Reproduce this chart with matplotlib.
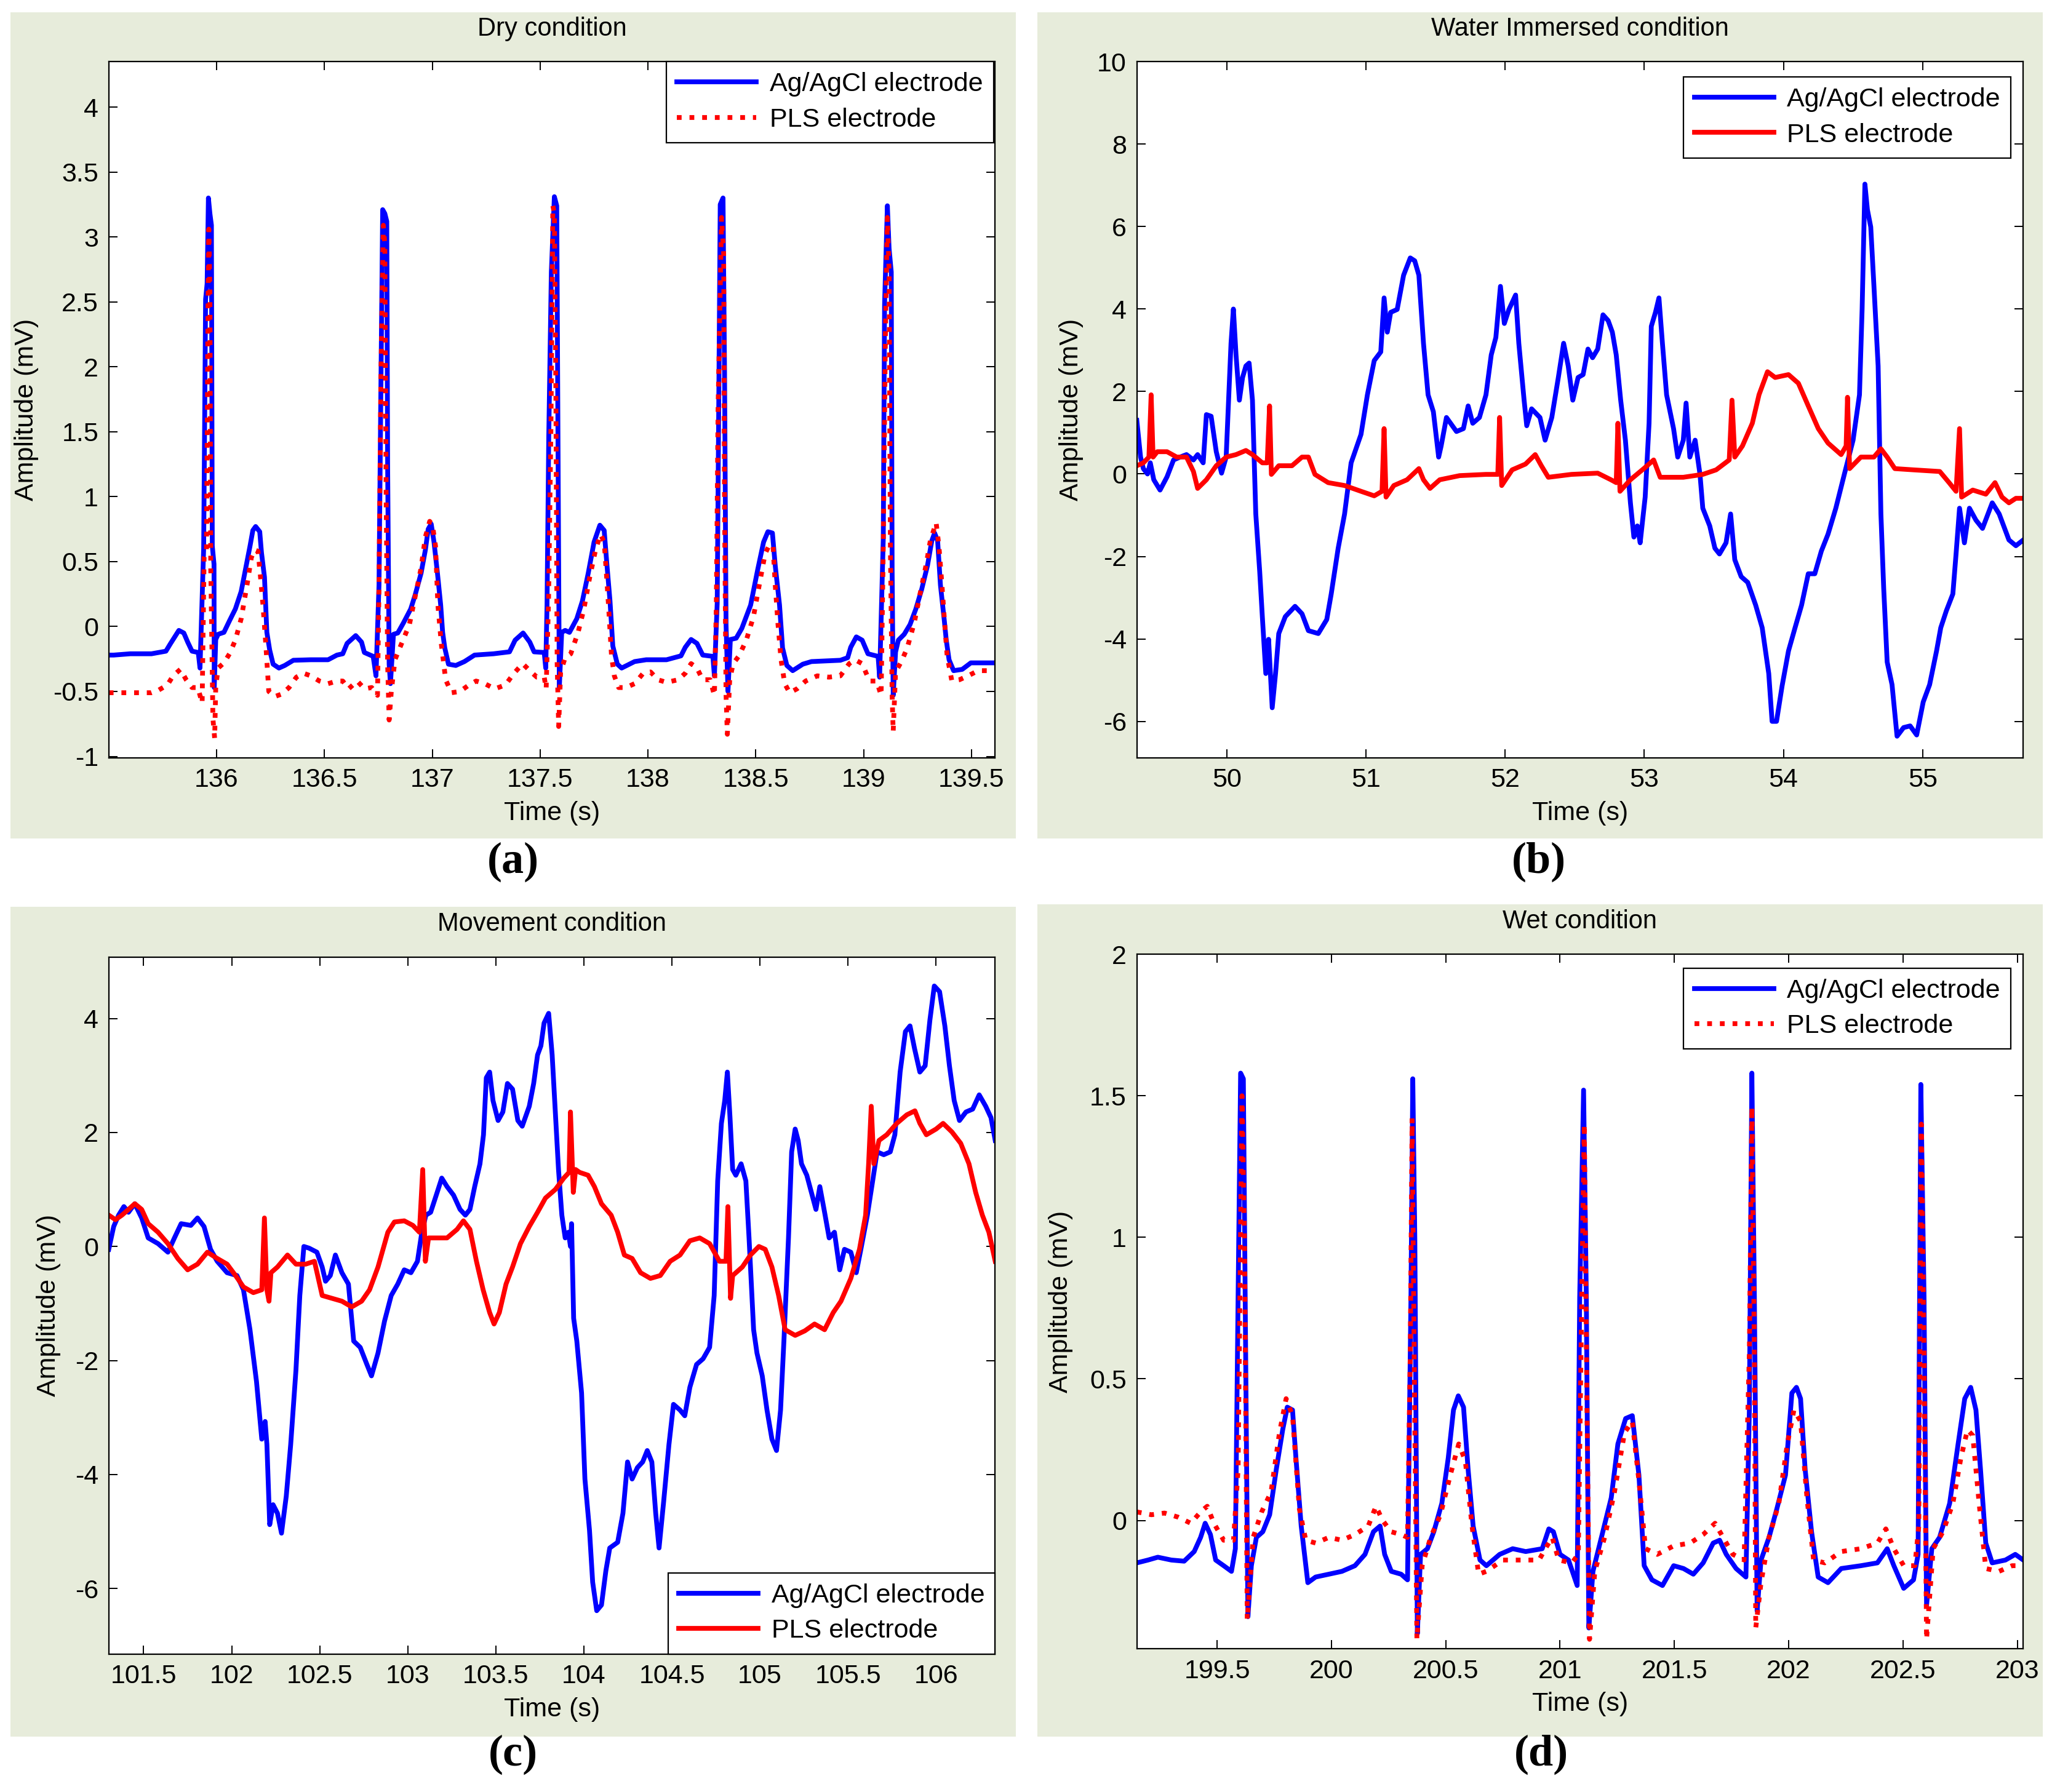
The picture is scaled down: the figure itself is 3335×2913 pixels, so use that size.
import matplotlib.pyplot as plt
from matplotlib.patches import Rectangle
from matplotlib.ticker import FuncFormatter

plt.rcParams['font.family'] = ['Liberation Sans', 'DejaVu Sans']
plt.rcParams['axes.unicode_minus'] = False

# ---- (a) dry condition ----
dry_ag_t = [135.50, 135.523, 135.60, 135.698, 135.765, 135.785, 135.825, 135.848, 135.866, 135.886,
            135.915, 135.923, 135.94, 135.949, 135.956, 135.962, 135.969, 135.976, 135.98, 135.988,
            135.989, 135.996, 136.007, 136.034, 136.06, 136.087, 136.114, 136.134, 136.155, 136.168,
            136.181, 136.20, 136.208, 136.222, 136.233, 136.246, 136.262, 136.289, 136.316, 136.356,
            136.437, 136.517, 136.558, 136.585, 136.605, 136.645, 136.672, 136.685, 136.726, 136.739,
            136.753, 136.762, 136.77, 136.78, 136.789, 136.793, 136.80, 136.806, 136.82, 136.84,
            136.867, 136.90, 136.92, 136.948, 136.968, 136.981, 136.995, 137.008, 137.024, 137.039,
            137.048, 137.058, 137.075, 137.109, 137.149, 137.196, 137.284, 137.358, 137.384, 137.421,
            137.452, 137.472, 137.519, 137.526, 137.532, 137.54, 137.552, 137.566, 137.577, 137.582,
            137.589, 137.60, 137.616, 137.636, 137.67, 137.696, 137.723, 137.75, 137.777, 137.797,
            137.81, 137.824, 137.837, 137.858, 137.878, 137.938, 137.992, 138.086, 138.153, 138.173,
            138.20, 138.227, 138.254, 138.301, 138.308, 138.321, 138.328, 138.335, 138.348, 138.355,
            138.362, 138.371, 138.382, 138.409, 138.435, 138.476, 138.509, 138.536, 138.556, 138.577,
            138.59, 138.61, 138.624, 138.644, 138.671, 138.718, 138.758, 138.892, 138.926, 138.94,
            138.966, 138.993, 139.02, 139.067, 139.074, 139.091, 139.097, 139.11, 139.118, 139.128,
            139.132, 139.137, 139.148, 139.161, 139.188, 139.215, 139.242, 139.269, 139.296, 139.316,
            139.329, 139.343, 139.356, 139.374, 139.383, 139.396, 139.417, 139.457, 139.497, 139.565,
            139.62]
dry_ag_v = [-0.22, -0.22, -0.21, -0.21, -0.19, -0.135, -0.03, -0.05, -0.12, -0.19,
            -0.20, -0.32, 0.60, 2.52, 2.64, 3.30, 3.18, 3.09, 0.62, 0.48,
            -0.47, -0.10, -0.06, -0.045, 0.045, 0.135, 0.27, 0.44, 0.62, 0.74,
            0.77, 0.73, 0.57, 0.38, -0.045, -0.18, -0.29, -0.32, -0.30, -0.26,
            -0.256, -0.256, -0.22, -0.21, -0.13, -0.07, -0.12, -0.20, -0.23, -0.38,
            0.32, 1.88, 3.21, 3.18, 3.12, 1.25, -0.29, -0.44, -0.06, -0.05,
            0.03, 0.135, 0.24, 0.41, 0.59, 0.75, 0.79, 0.65, 0.41, 0.165,
            -0.045, -0.165, -0.29, -0.30, -0.27, -0.22, -0.21, -0.195, -0.105, -0.05,
            -0.12, -0.195, -0.20, -0.32, 0.165, 1.46, 2.73, 3.31, 3.24, 1.67,
            -0.47, -0.045, -0.03, -0.045, 0.06, 0.196, 0.41, 0.65, 0.78, 0.74,
            0.47, 0.196, -0.15, -0.29, -0.32, -0.27, -0.256, -0.256, -0.226, -0.16,
            -0.10, -0.13, -0.22, -0.23, -0.38, 0.18, 1.67, 3.25, 3.30, 1.97,
            0.015, -0.50, -0.10, -0.09, -0.015, 0.165, 0.44, 0.65, 0.73, 0.72,
            0.47, 0.165, -0.165, -0.30, -0.34, -0.29, -0.27, -0.26, -0.24, -0.16,
            -0.08, -0.105, -0.21, -0.23, -0.39, 0.68, 2.48, 3.24, 2.91, 2.73,
            0.44, -0.53, -0.196, -0.105, -0.06, 0.015, 0.135, 0.286, 0.47, 0.66,
            0.72, 0.66, 0.32, 0.045, -0.105, -0.256, -0.34, -0.33, -0.28, -0.28,
            -0.28]
dry_pls_t = [135.50, 135.523, 135.698, 135.731, 135.772, 135.798, 135.832, 135.859, 135.886, 135.913,
             135.933, 135.942, 135.953, 135.96, 135.964, 135.969, 135.973, 135.983, 135.991, 135.996,
             136.007, 136.034, 136.06, 136.087, 136.114, 136.141, 136.161, 136.175, 136.192, 136.202,
             136.215, 136.228, 136.242, 136.269, 136.302, 136.336, 136.37, 136.403, 136.437, 136.477,
             136.517, 136.558, 136.585, 136.612, 136.652, 136.686, 136.719, 136.746, 136.753, 136.762,
             136.773, 136.78, 136.786, 136.793, 136.80, 136.81, 136.827, 136.853, 136.894, 136.92,
             136.948, 136.968, 136.988, 137.001, 137.015, 137.026, 137.042, 137.062, 137.089, 137.129,
             137.17, 137.203, 137.243, 137.29, 137.339, 137.379, 137.419, 137.458, 137.485, 137.519,
             137.528, 137.539, 137.55, 137.559, 137.566, 137.573, 137.579, 137.586, 137.595, 137.616,
             137.642, 137.676, 137.703, 137.73, 137.757, 137.78, 137.797, 137.806, 137.817, 137.831,
             137.844, 137.864, 137.898, 137.938, 137.978, 138.012, 138.046, 138.086, 138.14, 138.173,
             138.20, 138.227, 138.254, 138.288, 138.308, 138.317, 138.325, 138.341, 138.351, 138.355,
             138.362, 138.368, 138.379, 138.395, 138.422, 138.456, 138.489, 138.516, 138.543, 138.563,
             138.58, 138.59, 138.603, 138.617, 138.634, 138.657, 138.691, 138.731, 138.785, 138.839,
             138.892, 138.933, 138.96, 138.993, 139.027, 139.06, 139.081, 139.091, 139.101, 139.11,
             139.118, 139.124, 139.132, 139.137, 139.148, 139.175, 139.202, 139.235, 139.262, 139.289,
             139.309, 139.336, 139.349, 139.363, 139.376, 139.387, 139.409, 139.444, 139.484, 139.531,
             139.591, 139.62]
dry_pls_v = [-0.51, -0.51, -0.51, -0.49, -0.45, -0.38, -0.33, -0.41, -0.47, -0.47,
             -0.59, 0.53, 0.59, 2.42, 3.06, 2.58, 0.44, -0.71, -0.86, -0.47,
             -0.32, -0.28, -0.21, -0.105, 0.06, 0.32, 0.53, 0.59, 0.58, 0.41,
             0.165, -0.135, -0.50, -0.54, -0.52, -0.47, -0.39, -0.36, -0.38, -0.42,
             -0.44, -0.42, -0.42, -0.48, -0.42, -0.48, -0.47, -0.53, 0.32, 1.94,
             3.09, 2.94, 1.04, -0.29, -0.72, -0.50, -0.256, -0.15, 0.015, 0.226,
             0.45, 0.69, 0.81, 0.78, 0.62, 0.165, -0.135, -0.41, -0.51, -0.50,
             -0.45, -0.42, -0.44, -0.48, -0.45, -0.36, -0.286, -0.35, -0.39, -0.39,
             -0.48, 0.196, 1.52, 3.24, 3.18, 1.82, -0.29, -0.77, -0.35, -0.24,
             -0.21, -0.045, 0.135, 0.38, 0.59, 0.71, 0.65, 0.44, 0.165, -0.226,
             -0.38, -0.47, -0.47, -0.44, -0.36, -0.35, -0.41, -0.43, -0.41, -0.36,
             -0.286, -0.32, -0.41, -0.41, -0.53, 0.165, 1.67, 3.15, 2.87, 0.92,
             -0.53, -0.83, -0.41, -0.286, -0.226, -0.105, 0.075, 0.32, 0.56, 0.63,
             0.62, 0.32, 0.015, -0.256, -0.44, -0.51, -0.48, -0.42, -0.38, -0.39,
             -0.38, -0.286, -0.256, -0.286, -0.42, -0.42, -0.53, 0.62, 2.27, 3.15,
             2.73, 0.62, -0.53, -0.81, -0.35, -0.27, -0.165, 0.03, 0.256, 0.47,
             0.66, 0.80, 0.62, 0.32, 0.015, -0.226, -0.42, -0.41, -0.38, -0.34,
             -0.34, -0.34]

# ---- (b) water immersed condition ----
water_ag_t = [49.353, 49.38, 49.40, 49.43, 49.45, 49.475, 49.52, 49.57, 49.617, 49.664,
              49.71, 49.76, 49.79, 49.83, 49.853, 49.887, 49.924, 49.962, 49.995, 50.03,
              50.047, 50.066, 50.09, 50.113, 50.137, 50.16, 50.184, 50.208, 50.236, 50.255,
              50.28, 50.30, 50.326, 50.35, 50.373, 50.42, 50.49, 50.54, 50.586, 50.657,
              50.718, 50.75, 50.80, 50.846, 50.893, 50.964, 51.01, 51.059, 51.106, 51.13,
              51.153, 51.177, 51.224, 51.27, 51.318, 51.35, 51.38, 51.413, 51.446, 51.484,
              51.522, 51.54, 51.578, 51.65, 51.70, 51.734, 51.767, 51.815, 51.862, 51.90,
              51.933, 51.966, 51.994, 52.027, 52.075, 52.098, 52.136, 52.155, 52.19, 52.25,
              52.287, 52.335, 52.382, 52.42, 52.453, 52.486, 52.524, 52.56, 52.595, 52.628,
              52.665, 52.703, 52.74, 52.77, 52.798, 52.83, 52.864, 52.90, 52.925, 52.95,
              52.97, 53.006, 53.034, 53.05, 53.08, 53.105, 53.13, 53.16, 53.21, 53.24,
              53.28, 53.30, 53.327, 53.365, 53.40, 53.42, 53.47, 53.507, 53.54, 53.587,
              53.62, 53.65, 53.696, 53.743, 53.80, 53.847, 53.894, 53.918, 53.95, 53.99,
              54.036, 54.083, 54.13, 54.178, 54.225, 54.272, 54.32, 54.376, 54.437, 54.50,
              54.546, 54.565, 54.585, 54.603, 54.627, 54.65, 54.68, 54.70, 54.72, 54.745,
              54.78, 54.816, 54.863, 54.91, 54.957, 55.004, 55.05, 55.10, 55.13, 55.17,
              55.217, 55.24, 55.265, 55.30, 55.336, 55.383, 55.43, 55.50, 55.55, 55.62,
              55.67, 55.723]
water_ag_v = [1.30, 0.41, 0.13, 0.0, 0.27, -0.14, -0.39, -0.07, 0.34, 0.41,
              0.47, 0.34, 0.47, 0.27, 1.44, 1.40, 0.54, 0.02, 0.41, 3.17,
              4.0, 2.89, 1.79, 2.34, 2.62, 2.69, 1.79, -0.97, -2.36, -3.46,
              -4.84, -4.01, -5.67, -4.84, -3.87, -3.46, -3.21, -3.39, -3.80, -3.87,
              -3.53, -2.91, -1.80, -0.97, 0.27, 0.96, 1.92, 2.75, 2.96, 4.27,
              3.44, 3.92, 3.99, 4.82, 5.24, 5.17, 4.82, 3.17, 1.92, 1.51,
              0.41, 0.68, 1.37, 1.03, 1.10, 1.65, 1.23, 1.37, 1.92, 2.89,
              3.31, 4.55, 3.65, 3.99, 4.34, 3.17, 1.79, 1.17, 1.58, 1.37,
              0.82, 1.37, 2.34, 3.17, 2.62, 1.79, 2.34, 2.41, 3.03, 2.82,
              3.03, 3.86, 3.72, 3.44, 2.89, 1.79, 0.82, -0.70, -1.53, -1.26,
              -1.67, -0.56, 1.23, 3.58, 3.92, 4.27, 3.17, 1.92, 1.10, 0.41,
              0.82, 1.72, 0.41, 0.82, -0.01, -0.83, -1.26, -1.80, -1.94, -1.67,
              -0.97, -2.08, -2.49, -2.63, -3.18, -3.73, -4.84, -6.0, -6.0, -5.14,
              -4.29, -3.73, -3.18, -2.42, -2.42, -1.87, -1.46, -0.83, -0.01, 0.82,
              1.92, 4.0, 7.03, 6.41, 5.99, 4.55, 2.62, -0.97, -2.77, -4.56,
              -5.11, -6.36, -6.15, -6.11, -6.33, -5.53, -5.11, -4.29, -3.73, -3.32,
              -2.91, -1.94, -0.83, -1.67, -0.83, -1.12, -1.32, -0.70, -0.97, -1.60,
              -1.74, -1.60]
water_pls_t = [49.353, 49.40, 49.44, 49.456, 49.47, 49.50, 49.57, 49.64, 49.71, 49.76,
               49.79, 49.853, 49.924, 49.995, 50.066, 50.137, 50.184, 50.255, 50.29, 50.307,
               50.32, 50.373, 50.468, 50.54, 50.586, 50.633, 50.728, 50.846, 50.964, 51.059,
               51.115, 51.13, 51.144, 51.20, 51.295, 51.38, 51.413, 51.46, 51.53, 51.673,
               51.862, 51.947, 51.96, 51.975, 52.05, 52.146, 52.216, 52.26, 52.31, 52.476,
               52.665, 52.76, 52.798, 52.81, 52.825, 52.90, 52.996, 53.067, 53.114, 53.28,
               53.42, 53.516, 53.61, 53.63, 53.65, 53.705, 53.776, 53.824, 53.885, 53.94,
               54.036, 54.107, 54.178, 54.25, 54.32, 54.414, 54.45, 54.46, 54.475, 54.556,
               54.65, 54.70, 54.745, 54.80, 54.934, 55.123, 55.19, 55.24, 55.265, 55.28,
               55.36, 55.454, 55.52, 55.57, 55.62, 55.67, 55.723]
water_pls_v = [0.20, 0.27, 0.41, 1.92, 0.41, 0.54, 0.54, 0.41, 0.41, 0.06,
               -0.35, -0.14, 0.20, 0.41, 0.47, 0.57, 0.47, 0.27, 0.27, 1.65,
               -0.01, 0.20, 0.20, 0.41, 0.41, -0.01, -0.21, -0.28, -0.42, -0.53,
               -0.42, 1.10, -0.56, -0.28, -0.14, 0.13, -0.14, -0.35, -0.14, -0.04,
               -0.01, -0.01, 1.37, -0.28, 0.10, 0.24, 0.47, 0.20, -0.08, -0.01,
               0.02, -0.14, -0.21, 1.23, -0.42, -0.14, 0.13, 0.34, -0.08, -0.08,
               -0.01, 0.10, 0.34, 1.79, 0.41, 0.68, 1.23, 1.92, 2.48, 2.34,
               2.41, 2.20, 1.65, 1.10, 0.75, 0.47, 0.68, 1.86, 0.13, 0.41,
               0.41, 0.61, 0.41, 0.13, 0.10, 0.06, -0.21, -0.42, 1.10, -0.56,
               -0.39, -0.49, -0.21, -0.56, -0.70, -0.59, -0.59]

# ---- (c) movement condition ----
move_ag_t = [101.302, 101.33, 101.358, 101.388, 101.414, 101.45, 101.489, 101.526, 101.582, 101.638,
             101.675, 101.713, 101.768, 101.806, 101.843, 101.88, 101.918, 101.974, 102.03, 102.067,
             102.104, 102.141, 102.171, 102.19, 102.20, 102.216, 102.235, 102.26, 102.283, 102.31,
             102.335, 102.365, 102.387, 102.41, 102.44, 102.484, 102.514, 102.533, 102.56, 102.589,
             102.626, 102.663, 102.693, 102.73, 102.768, 102.794, 102.831, 102.868, 102.906, 102.943,
             102.98, 103.018, 103.055, 103.08, 103.103, 103.13, 103.167, 103.193, 103.223, 103.26,
             103.297, 103.327, 103.353, 103.38, 103.41, 103.43, 103.446, 103.465, 103.484, 103.513,
             103.54, 103.566, 103.595, 103.625, 103.65, 103.69, 103.715, 103.737, 103.756, 103.774,
             103.80, 103.82, 103.838, 103.856, 103.875, 103.894, 103.912, 103.924, 103.93, 103.942,
             103.96, 103.987, 104.006, 104.032, 104.05, 104.073, 104.10, 104.125, 104.147, 104.192,
             104.222, 104.248, 104.274, 104.304, 104.334, 104.36, 104.386, 104.408, 104.427, 104.453,
             104.483, 104.509, 104.546, 104.573, 104.602, 104.64, 104.677, 104.714, 104.74, 104.76,
             104.781, 104.80, 104.815, 104.83, 104.845, 104.863, 104.893, 104.92, 104.938, 104.964,
             104.983, 105.013, 105.04, 105.068, 105.094, 105.117, 105.136, 105.162, 105.18, 105.20,
             105.217, 105.236, 105.266, 105.292, 105.318, 105.34, 105.367, 105.393, 105.423, 105.453,
             105.48, 105.516, 105.547, 105.573, 105.61, 105.64, 105.665, 105.703, 105.74, 105.766,
             105.796, 105.826, 105.852, 105.878, 105.908, 105.938, 105.965, 105.99, 106.02, 106.05,
             106.076, 106.103, 106.133, 106.17, 106.208, 106.245, 106.282, 106.312, 106.336]
move_ag_v = [-0.05, 0.35, 0.55, 0.70, 0.60, 0.75, 0.50, 0.15, 0.05, -0.10,
             0.15, 0.40, 0.37, 0.50, 0.35, -0.05, -0.26, -0.46, -0.51, -0.76,
             -1.46, -2.37, -3.38, -3.07, -3.47, -4.88, -4.53, -4.68, -5.03, -4.38,
             -3.48, -2.17, -0.86, 0.0, -0.03, -0.10, -0.36, -0.61, -0.51, -0.15,
             -0.46, -0.66, -1.66, -1.77, -2.07, -2.27, -1.87, -1.31, -0.86, -0.66,
             -0.41, -0.46, -0.26, 0.25, 0.55, 0.60, 0.95, 1.20, 1.05, 0.90,
             0.65, 0.55, 0.65, 1.05, 1.45, 1.96, 2.96, 3.06, 2.56, 2.21,
             2.36, 2.86, 2.76, 2.21, 2.11, 2.46, 2.86, 3.36, 3.52, 3.92,
             4.09, 3.36, 2.36, 1.35, 0.55, 0.15, 0.25, 0.0, 0.40, -1.26,
             -1.66, -2.57, -4.08, -4.98, -5.89, -6.39, -6.29, -5.69, -5.29, -5.19,
             -4.68, -3.78, -4.08, -3.88, -3.78, -3.58, -3.78, -4.68, -5.29, -4.48,
             -3.48, -2.77, -2.87, -2.97, -2.47, -2.07, -1.97, -1.77, -0.86, 1.15,
             2.16, 2.56, 3.06, 2.26, 1.35, 1.25, 1.45, 1.15, 0.15, -1.46,
             -1.87, -2.27, -2.87, -3.38, -3.58, -2.87, -1.66, 0.15, 1.66, 2.06,
             1.86, 1.45, 1.25, 0.95, 0.65, 1.05, 0.60, 0.15, 0.25, -0.41,
             -0.05, -0.10, -0.46, -0.05, 0.55, 1.15, 1.66, 1.61, 1.66, 1.96,
             3.06, 3.77, 3.87, 3.47, 3.06, 3.17, 3.97, 4.57, 4.47, 3.87,
             3.17, 2.56, 2.21, 2.36, 2.41, 2.66, 2.46, 2.26, 1.86]
move_pls_t = [101.302, 101.34, 101.377, 101.414, 101.45, 101.489, 101.526, 101.582, 101.638, 101.694,
              101.75, 101.806, 101.862, 101.918, 101.974, 102.022, 102.067, 102.123, 102.171, 102.186,
              102.20, 102.212, 102.223, 102.26, 102.317, 102.365, 102.42, 102.47, 102.514, 102.57,
              102.626, 102.682, 102.738, 102.783, 102.831, 102.887, 102.924, 102.98, 103.029, 103.066,
              103.085, 103.10, 103.118, 103.167, 103.223, 103.28, 103.316, 103.353, 103.39, 103.428,
              103.465, 103.49, 103.52, 103.558, 103.595, 103.64, 103.69, 103.737, 103.782, 103.838,
              103.886, 103.916, 103.924, 103.94, 103.953, 103.976, 104.024, 104.06, 104.10, 104.155,
              104.192, 104.23, 104.274, 104.322, 104.378, 104.434, 104.49, 104.546, 104.602, 104.658,
              104.714, 104.77, 104.807, 104.818, 104.833, 104.845, 104.90, 104.946, 104.994, 105.03,
              105.068, 105.106, 105.143, 105.20, 105.255, 105.31, 105.367, 105.416, 105.46, 105.516,
              105.565, 105.60, 105.617, 105.632, 105.647, 105.676, 105.72, 105.777, 105.834, 105.88,
              105.908, 105.945, 106.0, 106.04, 106.09, 106.14, 106.187, 106.225, 106.263, 106.30,
              106.336]
move_pls_v = [0.55, 0.47, 0.55, 0.65, 0.75, 0.65, 0.40, 0.25, 0.05, -0.21,
              -0.41, -0.31, -0.10, -0.21, -0.31, -0.51, -0.71, -0.81, -0.76, 0.50,
              -0.76, -0.96, -0.46, -0.36, -0.15, -0.31, -0.31, -0.26, -0.86, -0.91,
              -0.96, -1.06, -0.96, -0.76, -0.36, 0.25, 0.43, 0.45, 0.37, 0.25,
              1.35, -0.26, 0.15, 0.15, 0.15, 0.30, 0.45, 0.30, -0.26, -0.76,
              -1.16, -1.36, -1.16, -0.66, -0.36, 0.05, 0.35, 0.60, 0.85, 1.00,
              1.20, 1.30, 2.36, 0.95, 1.35, 1.30, 1.25, 1.05, 0.75, 0.55,
              0.25, -0.15, -0.21, -0.46, -0.56, -0.51, -0.26, -0.15, 0.10, 0.15,
              0.05, -0.26, -0.26, 0.70, -0.91, -0.51, -0.36, -0.15, 0.0, -0.05,
              -0.36, -0.86, -1.46, -1.56, -1.48, -1.36, -1.46, -1.16, -0.96, -0.56,
              -0.05, 0.55, 1.45, 2.46, 1.45, 1.86, 1.96, 2.16, 2.31, 2.38,
              2.16, 1.96, 2.06, 2.16, 2.01, 1.81, 1.45, 0.95, 0.55, 0.25,
              -0.26]

# ---- (d) wet condition ----
wet_ag_t = [199.149, 199.198, 199.241, 199.30, 199.356, 199.40, 199.428, 199.448, 199.471, 199.494,
            199.529, 199.563, 199.58, 199.592, 199.603, 199.615, 199.624, 199.635, 199.65, 199.672,
            199.70, 199.73, 199.759, 199.787, 199.807, 199.83, 199.845, 199.868, 199.897, 199.931,
            199.989, 200.046, 200.103, 200.147, 200.184, 200.213, 200.233, 200.262, 200.305, 200.333,
            200.348, 200.356, 200.365, 200.376, 200.39, 200.42, 200.448, 200.483, 200.511, 200.534,
            200.555, 200.578, 200.598, 200.62, 200.65, 200.678, 200.736, 200.793, 200.85, 200.922,
            200.951, 200.971, 201.0, 201.037, 201.075, 201.086, 201.103, 201.115, 201.126, 201.144,
            201.181, 201.224, 201.253, 201.287, 201.316, 201.345, 201.368, 201.402, 201.448, 201.497,
            201.54, 201.583, 201.626, 201.67, 201.698, 201.727, 201.77, 201.813, 201.828, 201.839,
            201.85, 201.862, 201.879, 201.914, 201.948, 201.986, 202.014, 202.034, 202.052, 202.072,
            202.10, 202.129, 202.172, 202.23, 202.316, 202.388, 202.431, 202.46, 202.503, 202.546,
            202.566, 202.578, 202.592, 202.603, 202.626, 202.66, 202.704, 202.741, 202.77, 202.796,
            202.819, 202.839, 202.862, 202.89, 202.948, 202.991, 203.026]
wet_ag_v = [-0.15, -0.14, -0.13, -0.14, -0.144, -0.11, -0.06, -0.01, -0.05, -0.14,
            -0.16, -0.18, -0.10, 0.79, 1.58, 1.56, 0.69, -0.34, -0.16, -0.06,
            -0.04, 0.02, 0.18, 0.32, 0.40, 0.39, 0.22, -0.02, -0.22, -0.20,
            -0.19, -0.18, -0.16, -0.12, -0.04, -0.02, -0.12, -0.18, -0.19, -0.21,
            0.79, 1.56, 0.99, -0.40, -0.12, -0.10, -0.04, 0.06, 0.22, 0.39,
            0.44, 0.40, 0.18, -0.02, -0.14, -0.16, -0.12, -0.10, -0.11, -0.10,
            -0.03, -0.04, -0.12, -0.14, -0.23, 0.79, 1.52, 0.79, -0.38, -0.18,
            -0.06, 0.08, 0.27, 0.36, 0.37, 0.16, -0.16, -0.21, -0.23, -0.16,
            -0.17, -0.19, -0.15, -0.08, -0.07, -0.12, -0.17, -0.20, 0.39, 1.58,
            0.79, -0.32, -0.14, -0.06, 0.04, 0.16, 0.45, 0.47, 0.43, 0.18,
            -0.04, -0.20, -0.22, -0.17, -0.16, -0.15, -0.10, -0.16, -0.24, -0.21,
            -0.12, 1.54, 0.79, -0.30, -0.10, -0.06, 0.06, 0.27, 0.43, 0.47,
            0.39, 0.18, -0.08, -0.15, -0.14, -0.12, -0.14]
wet_pls_t = [199.149, 199.213, 199.27, 199.328, 199.385, 199.428, 199.457, 199.486, 199.529, 199.572,
             199.592, 199.609, 199.62, 199.632, 199.658, 199.695, 199.736, 199.773, 199.802, 199.83,
             199.86, 199.888, 199.931, 199.989, 200.046, 200.103, 200.161, 200.195, 200.224, 200.261,
             200.305, 200.333, 200.345, 200.353, 200.362, 200.374, 200.397, 200.434, 200.477, 200.52,
             200.557, 200.586, 200.615, 200.644, 200.678, 200.75, 200.822, 200.908, 200.943, 200.966,
             200.994, 201.052, 201.08, 201.095, 201.106, 201.118, 201.129, 201.152, 201.195, 201.238,
             201.282, 201.316, 201.345, 201.374, 201.425, 201.497, 201.569, 201.626, 201.678, 201.713,
             201.756, 201.805, 201.828, 201.839, 201.85, 201.856, 201.879, 201.914, 201.957, 201.994,
             202.023, 202.052, 202.08, 202.109, 202.158, 202.23, 202.316, 202.388, 202.425, 202.46,
             202.503, 202.552, 202.569, 202.58, 202.592, 202.603, 202.632, 202.675, 202.718, 202.753,
             202.782, 202.805, 202.833, 202.862, 202.92, 202.977, 203.026]
wet_pls_v = [0.03, 0.02, 0.026, 0.012, -0.01, 0.03, 0.05, -0.01, -0.07, -0.07,
             0.18, 1.50, 0.99, -0.35, -0.06, 0.03, 0.10, 0.31, 0.43, 0.37,
             0.04, -0.07, -0.08, -0.06, -0.07, -0.05, -0.02, 0.05, 0.0, -0.04,
             -0.05, -0.06, 0.59, 1.42, 0.59, -0.42, -0.16, -0.06, 0.02, 0.16,
             0.27, 0.21, -0.02, -0.19, -0.18, -0.14, -0.14, -0.14, -0.09, -0.06,
             -0.14, -0.15, -0.12, 0.79, 1.40, 0.39, -0.42, -0.18, -0.06, 0.10,
             0.31, 0.35, 0.14, -0.10, -0.12, -0.09, -0.08, -0.05, -0.01, -0.06,
             -0.12, -0.14, 0.59, 1.46, 0.59, -0.38, -0.22, -0.06, 0.06, 0.27,
             0.39, 0.35, 0.08, -0.14, -0.15, -0.11, -0.10, -0.08, -0.03, -0.10,
             -0.16, -0.16, -0.02, 1.40, 0.59, -0.42, -0.10, -0.04, 0.06, 0.22,
             0.32, 0.30, 0.06, -0.17, -0.18, -0.16, -0.16]

legend_labels = ['Ag/AgCl electrode', 'PLS electrode']

bg_color = '#e7ecdb'
fig = plt.figure(figsize=(16.675, 14.565), dpi=200)

# panel backgrounds (figure fractions), kept under the axes
for x0, y0, w, h in [(0.005, 0.532, 0.490, 0.461), (0.5055, 0.532, 0.490, 0.461),
                     (0.005, 0.031, 0.490, 0.463), (0.5055, 0.031, 0.490, 0.4645)]:
    fig.patches.append(Rectangle((x0, y0), w, h, transform=fig.transFigure,
                                 facecolor=bg_color, edgecolor='none', zorder=-10))

fmt = FuncFormatter(lambda v, p: '%g' % round(v, 6))


def panel(rect, title, ag_t, ag_v, pls_t, pls_v, xlim, ylim, xticks, yticks,
          pls_ls, leg_loc, leg_anchor, ylab_x, letter, letter_xy):
    ax = fig.add_axes(rect)
    ax.set_zorder(1)
    ax.plot(ag_t, ag_v, color='#0000ff', lw=2.8, label=legend_labels[0])
    ax.plot(pls_t, pls_v, color='#ff0000', lw=2.8, ls=pls_ls, label=legend_labels[1])
    ax.set_xlim(*xlim)
    ax.set_ylim(*ylim)
    ax.set_xticks(xticks)
    ax.set_yticks(yticks)
    ax.xaxis.set_major_formatter(fmt)
    ax.yaxis.set_major_formatter(fmt)
    ax.tick_params(direction='in', top=True, right=True, length=5, width=0.7,
                   labelsize=15.5, pad=6)
    for s in ax.spines.values():
        s.set_linewidth(0.8)
    ax.text(0.5, 1.047, title, transform=ax.transAxes, ha='center', va='center', fontsize=15)
    ax.set_xlabel('Time (s)', fontsize=15.5, va='center')
    ax.xaxis.set_label_coords(0.5, -0.08)
    ax.set_ylabel('Amplitude (mV)', fontsize=15.5, va='center')
    ax.yaxis.set_label_coords(ylab_x, 0.5)
    leg = ax.legend(loc=leg_loc, bbox_to_anchor=leg_anchor, borderaxespad=0, fontsize=15.5,
                    fancybox=False, framealpha=1, edgecolor='black', handlelength=3.0,
                    handletextpad=0.5, borderpad=0.4, labelspacing=0.4)
    leg.get_frame().set_linewidth(0.8)
    fig.text(letter_xy[0], letter_xy[1], letter, ha='center', va='center', fontsize=26,
             fontweight='bold', family=['Liberation Serif', 'DejaVu Serif'])
    return ax


panel([0.053, 0.5772, 0.432, 0.3884], 'Dry condition', dry_ag_t, dry_ag_v, dry_pls_t, dry_pls_v,
      (135.5, 139.61), (-1.01, 4.35), [136 + 0.5 * i for i in range(8)],
      [-1 + 0.5 * i for i in range(11)], ':', 'upper right', (0.998, 1.0), -0.093,
      '(a)', (0.25, 0.519))
panel([0.554, 0.5772, 0.432, 0.3884], 'Water Immersed condition', water_ag_t, water_ag_v,
      water_pls_t, water_pls_v, (49.353, 55.723), (-6.88, 10), [50, 51, 52, 53, 54, 55],
      [-6, -4, -2, 0, 2, 4, 6, 8, 10], '-', 'upper right', (0.986, 0.978), -0.074,
      '(b)', (0.75, 0.519))
panel([0.053, 0.077, 0.432, 0.389], 'Movement condition', move_ag_t, move_ag_v, move_pls_t,
      move_pls_v, (101.302, 106.336), (-7.15, 5.08), [101.5 + 0.5 * i for i in range(10)],
      [-6, -4, -2, 0, 2, 4], '-', 'lower right', (1.0, 0.0), -0.068,
      '(c)', (0.25, 0.021))
panel([0.554, 0.080, 0.432, 0.3875], 'Wet condition', wet_ag_t, wet_ag_v, wet_pls_t, wet_pls_v,
      (199.149, 203.026), (-0.453, 2.0), [199.5 + 0.5 * i for i in range(8)],
      [0, 0.5, 1, 1.5, 2], ':', 'upper right', (0.986, 0.98), -0.086,
      '(d)', (0.751, 0.021))

fig.savefig('out.png', dpi=200)
